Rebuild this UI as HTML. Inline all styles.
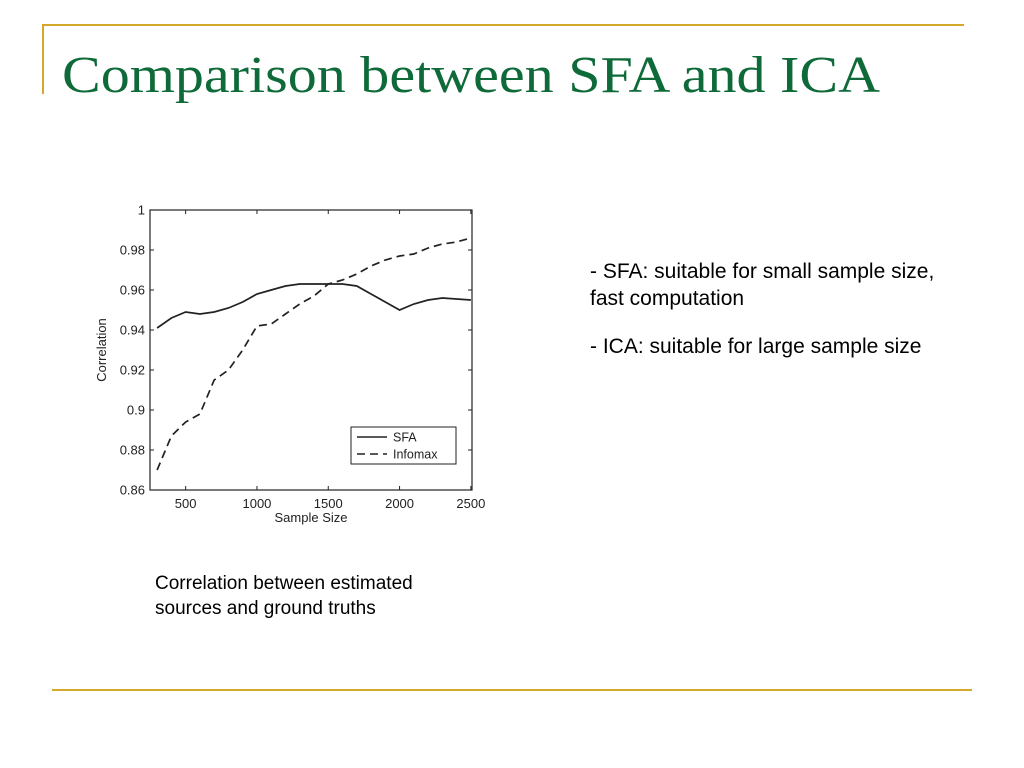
<!DOCTYPE html>
<html><head><meta charset="utf-8"><style>
body{margin:0;width:1024px;height:768px;background:#fff;position:relative;overflow:hidden;font-family:"Liberation Sans",sans-serif}
.ab{position:absolute}
.txt{font-size:21px;color:#000;line-height:27px}
</style></head><body>
<div class="ab" style="left:42px;top:24px;width:922px;height:2px;background:#d4a82a"></div>
<div class="ab" style="left:42px;top:24px;width:2px;height:70px;background:#d4a82a"></div>
<div class="ab" style="left:52px;top:689px;width:920px;height:2px;background:#d4a82a"></div>
<svg class="ab" style="left:0;top:0" width="1024" height="120">
<text x="62" y="92" font-family="Liberation Serif, serif" font-size="52" fill="#0e6a38" textLength="818" lengthAdjust="spacingAndGlyphs">Comparison between SFA and ICA</text>
</svg>
<div class="ab txt" style="left:590px;top:258px;width:365px">- SFA: suitable for small sample size, fast computation</div>
<div class="ab txt" style="left:590px;top:333px;width:365px">- ICA: suitable for large sample size</div>
<div class="ab" style="left:155px;top:571px;font-size:19px;line-height:25px;width:315px">Correlation between estimated sources and ground truths</div>
<svg class="ab" id="chart" style="left:0;top:0" width="1024" height="768"></svg>
<script>
const xVals=[300,400,500,600,700,800,900,1000,1100,1200,1300,1400,1500,1600,1700,1800,1900,2000,2100,2200,2300,2400,2500];
const sfaVals=[.941,.946,.949,.948,.949,.951,.954,.958,.960,.962,.963,.963,.963,.963,.962,.958,.954,.950,.953,.955,.956,.9555,.955];
const infomaxVals=[.870,.887,.894,.898,.915,.920,.930,.942,.943,.948,.953,.957,.963,.965,.968,.972,.975,.977,.978,.981,.983,.984,.986];
const xTicks=[500,1000,1500,2000,2500];
const yTicks=[0.86,0.88,0.9,0.92,0.94,0.96,0.98,1];
const yTickLabels=["0.86","0.88","0.9","0.92","0.94","0.96","0.98","1"];
const L=150,R=472,T=210,B=490,X0=250,X1=2508,Y0=0.86,Y1=1;
const sx=v=>L+(v-X0)/(X1-X0)*(R-L);
const sy=v=>B-(v-Y0)/(Y1-Y0)*(B-T);
const svg=document.getElementById('chart');const NS='http://www.w3.org/2000/svg';
function mk(t,a,p){const e=document.createElementNS(NS,t);for(const k in a)e.setAttribute(k,a[k]);(p||svg).appendChild(e);return e;}
let e=mk('rect',{x:L,y:T,width:R-L,height:B-T,fill:'none',stroke:'#222','stroke-width':1.2});


xTicks.forEach(v=>{const x=sx(v);
mk('line',{x1:x,x2:x,y1:B,y2:B-4,stroke:'#222'});mk('line',{x1:x,x2:x,y1:T,y2:T+4,stroke:'#222'});
const t=mk('text',{x:x,y:B+18,'text-anchor':'middle','font-size':13,fill:'#222'});t.textContent=v;

});
yTicks.forEach((v,i)=>{const y=sy(v);
mk('line',{x1:L,x2:L+4,y1:y,y2:y,stroke:'#222'});mk('line',{x1:R,x2:R-4,y1:y,y2:y,stroke:'#222'});
const t=mk('text',{x:L-5,y:y+4.5,'text-anchor':'end','font-size':13,fill:'#222'});t.textContent=yTickLabels[i];

});
let xt=mk('text',{x:(L+R)/2,y:B+32,'text-anchor':'middle','font-size':13,fill:'#222'});xt.textContent='Sample Size';


let yt=mk('text',{x:0,y:0,transform:`translate(106,${(T+B)/2}) rotate(-90)`,'text-anchor':'middle','font-size':13,fill:'#222'});yt.textContent='Correlation';


function pts(a){return xVals.map((x,i)=>sx(x)+','+sy(a[i])).join(' ');}
let s1=mk('polyline',{points:pts(sfaVals),fill:'none',stroke:'#222','stroke-width':1.7});


let s2=mk('polyline',{points:pts(infomaxVals),fill:'none',stroke:'#222','stroke-width':1.7,'stroke-dasharray':'8,5'});


let lg=mk('g',{});


mk('rect',{x:351,y:427,width:105,height:37,fill:'#fff',stroke:'#222'},lg);
mk('line',{x1:357,x2:387,y1:437,y2:437,stroke:'#222','stroke-width':1.6},lg);
mk('line',{x1:357,x2:387,y1:454,y2:454,stroke:'#222','stroke-width':1.6,'stroke-dasharray':'8,5'},lg);
let l1=mk('text',{x:393,y:441.5,'font-size':12.5,fill:'#222'},lg);l1.textContent='SFA';


let l2=mk('text',{x:393,y:458.5,'font-size':12.5,fill:'#222'},lg);l2.textContent='Infomax';


</script>
</body></html>
